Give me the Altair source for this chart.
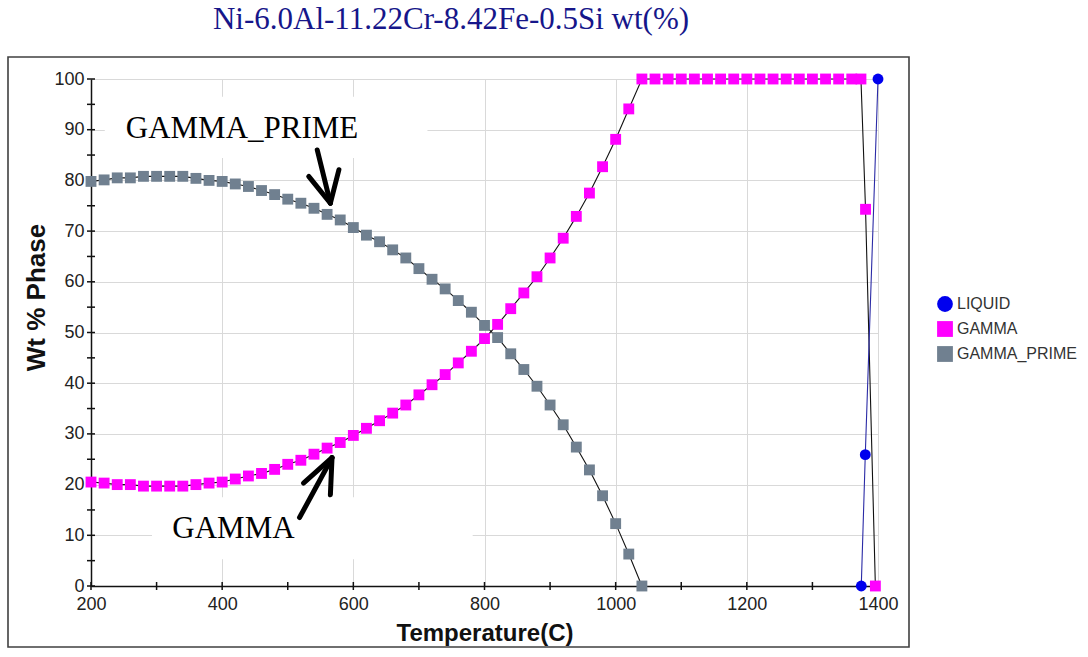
import altair as alt
import pandas as pd

TITLE = "Ni-6.0Al-11.22Cr-8.42Fe-0.5Si wt(%)"
PHASES = ["LIQUID", "GAMMA", "GAMMA_PRIME"]
FILL_COLORS = ["#0000ee", "#ff00ff", "#708090"]
SHAPES = ["circle", "square", "square"]

# ---- data ----
gp_temp = [200, 220, 240, 260, 280, 300, 320, 340, 360, 380, 400, 420, 440, 460, 480,
           500, 520, 540, 560, 580, 600, 620, 640, 660, 680, 700, 720, 740, 760, 780,
           800, 820, 840, 860, 880, 900, 920, 940, 960, 980, 1000, 1020, 1040]
gp_wt = [79.8, 80.1, 80.5, 80.5, 80.8, 80.8, 80.8, 80.8, 80.4, 80.0, 79.8, 79.3, 78.8, 78.0, 77.2,
         76.3, 75.5, 74.5, 73.3, 72.2, 70.7, 69.2, 67.9, 66.3, 64.7, 62.6, 60.5, 58.6, 56.3, 54.0,
         51.4, 49.0, 45.8, 42.7, 39.4, 35.7, 31.8, 27.4, 22.9, 17.8, 12.3, 6.3, 0.0]

gamma_temp = [200, 220, 240, 260, 280, 300, 320, 340, 360, 380, 400, 420, 440, 460, 480,
              500, 520, 540, 560, 580, 600, 620, 640, 660, 680, 700, 720, 740, 760, 780,
              800, 820, 840, 860, 880, 900, 920, 940, 960, 980, 1000, 1020, 1040,
              1060, 1080, 1100, 1120, 1140, 1160, 1180, 1200, 1220, 1240, 1260, 1280,
              1300, 1320, 1340, 1360, 1374, 1381, 1396]
gamma_wt = [20.5, 20.3, 20.0, 20.0, 19.7, 19.7, 19.7, 19.7, 20.0, 20.3, 20.5, 21.1, 21.7, 22.2, 23.0,
            24.0, 24.8, 26.0, 27.2, 28.3, 29.7, 31.1, 32.6, 34.1, 35.7, 37.7, 39.7, 41.7, 44.0, 46.3,
            48.8, 51.6, 54.7, 57.8, 61.0, 64.7, 68.6, 72.9, 77.5, 82.7, 88.1, 94.1, 100.0,
            100, 100, 100, 100, 100, 100, 100, 100, 100, 100, 100, 100,
            100, 100, 100, 100, 100, 74.3, 0.0]

liquid_temp = [1374.5, 1380.6, 1400]
liquid_wt = [0.0, 25.9, 100.0]

x_major = [200, 400, 600, 800, 1000, 1200, 1400]
x_all_ticks = [200, 300, 400, 500, 600, 700, 800, 900, 1000, 1100, 1200, 1300, 1400]
y_major = [0, 10, 20, 30, 40, 50, 60, 70, 80, 90, 100]
y_all_ticks = [0, 5, 10, 15, 20, 25, 30, 35, 40, 45, 50, 55, 60, 65, 70, 75, 80, 85, 90, 95, 100]

# annotations (in data units)
ann_label = ["GAMMA_PRIME", "GAMMA"]
ann_temp = [253, 324]
ann_wt = [88.3, 9.45]
box_t1 = [221, 293]
box_t2 = [713, 782]
box_w1 = [84.4, 5.3]
box_w2 = [96.5, 17.5]
# arrow segments: tail->tip, left arm->tip, right arm->tip
arr_t1 = [545, 532, 578, 518, 524, 565]
arr_w1 = [86.0, 80.8, 82.1, 13.5, 20.3, 18.0]
arr_t2 = [565, 565, 565, 567.5, 567.5, 567.5]
arr_w2 = [75.5, 75.5, 75.5, 25.3, 25.3, 25.3]

rows = []
for ph, ts, ws in [("LIQUID", liquid_temp, liquid_wt),
                   ("GAMMA", gamma_temp, gamma_wt),
                   ("GAMMA_PRIME", gp_temp, gp_wt)]:
    for t, w in zip(ts, ws):
        rows.append({"phase": ph, "temp": t, "wt": w})
df = pd.DataFrame(rows)

ann_df = pd.DataFrame({"label": ann_label, "temp": ann_temp, "wt": ann_wt})
box_df = pd.DataFrame({"t1": box_t1, "t2": box_t2, "w1": box_w1, "w2": box_w2})
arr_df = pd.DataFrame({"t1": arr_t1, "t2": arr_t2, "w1": arr_w1, "w2": arr_w2})
xt_df = pd.DataFrame({"v": x_all_ticks})
yt_df = pd.DataFrame({"v": y_all_ticks})

AX_FONT = "Liberation Sans"
x_scale = alt.Scale(domain=[200, 1400], nice=False, zero=False)
y_scale = alt.Scale(domain=[0, 100], nice=False)

x_axis = alt.Axis(
    orient="bottom", values=x_major, grid=True, format="d",
    gridColor="#d9d9d9", gridWidth=1,
    domainColor="#111111", domainWidth=1.5, ticks=False,
    labelFont=AX_FONT, labelFontSize=18, labelColor="#222222",
    labelPadding=9, labelFlush=False, labelOverlap=False,
    title="Temperature(C)", titleFont=AX_FONT, titleFontSize=24, titleFontWeight="bold",
    titleColor="#111111", titleBaseline="alphabetic", titleY=54,
)
y_axis = alt.Axis(
    orient="left", values=y_major, grid=True, format="d",
    gridColor="#d9d9d9", gridWidth=1,
    domainColor="#111111", domainWidth=1.5, ticks=False,
    labelFont=AX_FONT, labelFontSize=18, labelColor="#222222",
    labelPadding=7, labelFlush=False, labelOverlap=False,
    title="Wt % Phase", titleFont=AX_FONT, titleFontSize=26, titleFontWeight="bold",
    titleColor="#111111", titleAngle=270, titleAlign="center", titleBaseline="middle",
    titleX=-55, titleY=218,
)

frame = alt.Chart(alt.Data(values=[{}])).mark_rect(
    fillOpacity=0, stroke="#404040", strokeWidth=1.6
).encode(x=alt.value(-83), x2=alt.value(818), y=alt.value(-22), y2=alt.value(568))

boxes = alt.Chart(box_df).mark_rect(fill="white").encode(
    x=alt.X("t1:Q", scale=x_scale, axis=None),
    x2="t2:Q",
    y=alt.Y("w1:Q", scale=y_scale, axis=None),
    y2="w2:Q",
)

# crossing tick marks on both axes
x_ticks_layer = alt.Chart(xt_df).mark_rule(color="#111111", strokeWidth=1.5).encode(
    x=alt.X("v:Q", scale=x_scale, axis=None),
    y=alt.value(503), y2=alt.value(511),
)
y_ticks_layer = alt.Chart(yt_df).mark_rule(color="#111111", strokeWidth=1.5).encode(
    y=alt.Y("v:Q", scale=y_scale, axis=None),
    x=alt.value(-4), x2=alt.value(4),
)

solid_lines = alt.Chart(df).transform_filter("datum.phase != 'LIQUID'").mark_line(
    color="#111111", strokeWidth=1.1
).encode(
    x=alt.X("temp:Q", scale=x_scale, axis=x_axis),
    y=alt.Y("wt:Q", scale=y_scale, axis=y_axis),
    detail="phase:N",
    order="temp:Q",
)
liquid_line = alt.Chart(df).transform_filter("datum.phase == 'LIQUID'").mark_line(
    color="#2b2ba6", strokeWidth=1.1
).encode(
    x=alt.X("temp:Q", scale=x_scale, axis=None),
    y=alt.Y("wt:Q", scale=y_scale, axis=None),
    order="temp:Q",
)

legend = alt.Legend(
    title=None, orient="none", legendX=845, legendY=216,
    labelFont=AX_FONT, labelFontSize=16, labelColor="#333333",
    symbolSize=250, rowPadding=8, labelOffset=3, padding=0,
)
points = alt.Chart(df).mark_point(filled=True, opacity=1, size=118).encode(
    x=alt.X("temp:Q", scale=x_scale, axis=None),
    y=alt.Y("wt:Q", scale=y_scale, axis=None),
    color=alt.Color("phase:N", scale=alt.Scale(domain=PHASES, range=FILL_COLORS), legend=legend),
    shape=alt.Shape("phase:N", scale=alt.Scale(domain=PHASES, range=SHAPES), legend=legend),
)

ann_text = alt.Chart(ann_df).mark_text(
    font="Liberation Serif", fontSize=31, color="#000000", align="left", baseline="alphabetic"
).encode(
    x=alt.X("temp:Q", scale=x_scale, axis=None),
    y=alt.Y("wt:Q", scale=y_scale, axis=None),
    text="label:N",
)

arrows = alt.Chart(arr_df).mark_rule(color="#000000", strokeWidth=5, strokeCap="round").encode(
    x=alt.X("t1:Q", scale=x_scale, axis=None),
    x2="t2:Q",
    y=alt.Y("w1:Q", scale=y_scale, axis=None),
    y2="w2:Q",
)

title = alt.Chart(alt.Data(values=[{"t": TITLE}])).mark_text(
    font="Liberation Serif", fontSize=31, color="#16168a", align="center", baseline="alphabetic"
).encode(x=alt.value(360), y=alt.value(-50), text="t:N")

chart = alt.layer(
    frame, boxes, x_ticks_layer, y_ticks_layer, solid_lines, liquid_line, points,
    ann_text, arrows, title
).resolve_axis(
    x="independent", y="independent"
).properties(
    width=787, height=507,
    padding={"left": 91, "top": 79, "right": 210, "bottom": 71},
    autosize=alt.AutoSizeParams(type="none"),
    background="white",
).configure_view(strokeWidth=0)

chart.save("out.html", embed_options={"renderer": "svg", "actions": False})
